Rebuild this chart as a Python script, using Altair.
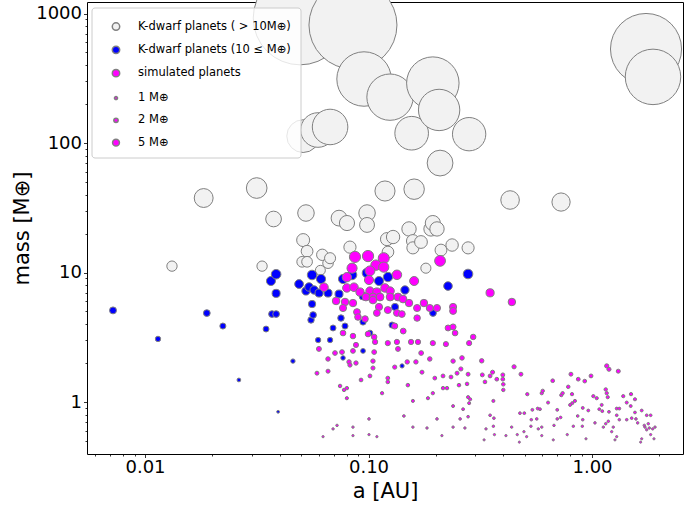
import altair as alt
import pandas as pd

# K-dwarf planets heavier than 10 Earth masses: semi-major axis [AU], mass [M_earth]
big_a = [0.0132, 0.0183, 0.0316, 0.0334, 0.0376, 0.0494, 0.0505, 0.0510, 0.0510, 0.0525,
         0.0531, 0.0531, 0.0594, 0.0609, 0.0621, 0.0659, 0.0673, 0.0673, 0.0738, 0.0801,
         0.0826, 0.0852, 0.0955, 0.0985, 0.0985, 0.1185, 0.1210, 0.1222, 0.1248, 0.1288,
         0.1518, 0.156, 0.158, 0.158, 0.160, 0.1717, 0.1806, 0.1904, 0.194, 0.194,
         0.2025, 0.207, 0.209, 0.211, 0.2366, 0.279, 0.282, 0.430, 0.727, 1.745, 1.875]
big_m = [11.2, 37.6, 44.9, 11.2, 25.9, 923, 12.1, 113, 17.8, 28.8,
         14.6, 12.1, 126, 10.4, 13.7, 11.8, 133, 12.9, 26.3, 24.1,
         15.7, 815, 312, 28.8, 23.3, 42.6, 18.1, 14.4, 226, 18.8,
         21.7, 119, 17.5, 15.5, 44.0, 17.2, 10.8, 21.7, 290, 24.1,
         21.7, 180, 70.0, 14.9, 16.3, 15.5, 117, 36.3, 35.0, 532, 324]

# K-dwarf planets up to 10 Earth masses
small_a = [0.00719, 0.01143, 0.0189, 0.0223, 0.0263, 0.0348, 0.0366, 0.0370, 0.0386, 0.0386,
           0.0386, 0.0394, 0.0459, 0.0489, 0.0525, 0.0542, 0.0553, 0.0559, 0.0559, 0.0565,
           0.0571, 0.0595, 0.0601, 0.0613, 0.0659, 0.0673, 0.0694, 0.0738, 0.0753, 0.0769,
           0.0769, 0.0785, 0.0844, 0.0945, 0.0945, 0.0945, 0.0985, 0.1015, 0.1114, 0.1222,
           0.1274, 0.1314, 0.1413, 0.1456, 0.1943, 0.2268, 0.2788]
small_m = [5.1, 3.07, 4.86, 3.86, 1.48, 3.66, 8.6, 4.78, 9.7, 6.9,
           4.78, 0.84, 2.07, 8.15, 7.2, 7.73, 4.3, 9.57, 5.71, 4.7,
           7.33, 3.01, 6.94, 8.91, 6.94, 3.01, 3.73, 6.82, 4.45, 8.91,
           2.19, 3.86, 9.57, 6.58, 4.15, 2.48, 9.91, 3.41, 8.6, 9.23,
           3.93, 5.42, 1.90, 7.33, 4.87, 7.86, 9.74]

# simulated planets inside ~0.45 AU
sim_in_a = [0.087, 0.0995, 0.117, 0.108, 0.117, 0.209, 0.0844, 0.1015, 0.134, 0.080,
            0.1005, 0.160, 0.0632, 0.080, 0.0861, 0.0916, 0.1015, 0.109, 0.1185, 0.125,
            0.0974, 0.1047, 0.1126, 0.125, 0.1355, 0.0716, 0.0785, 0.0852, 0.1047, 0.1427,
            0.1518, 0.177, 0.188, 0.2025, 0.239, 0.0769, 0.0888, 0.1114, 0.122, 0.134,
            0.141, 0.165, 0.0897, 0.0965, 0.109, 0.165, 0.131, 0.143, 0.227, 0.239,
            0.0769, 0.0852, 0.0995, 0.106, 0.107, 0.122, 0.134, 0.155, 0.1665, 0.194,
            0.222, 0.244, 0.282, 0.294, 0.060, 0.0708, 0.0761, 0.0879, 0.0852, 0.106,
            0.1355, 0.172, 0.262, 0.0659, 0.0818, 0.0879, 0.1047, 0.149, 0.163, 0.188,
            0.239, 0.0826, 0.1047, 0.131, 0.259, 0.0588, 0.0659, 0.1735, 0.1015, 0.0926,
            0.122, 0.122, 0.198, 0.2155, 0.234, 0.249, 0.279, 0.0746, 0.080, 0.0777,
            0.150, 0.2155, 0.2245, 0.254, 0.276, 0.080, 0.115, 0.1845, 0.194, 0.279,
            0.285, 0.158, 0.239, 0.265, 0.282, 0.144, 0.1005, 0.0694, 0.0723, 0.0626,
            0.0852, 0.0852, 0.1005, 0.109, 0.158, 0.1827, 0.2025, 0.213, 0.239, 0.257,
            0.270, 0.279, 0.350, 0.438, 0.239]
sim_in_m = [13.2, 13.4, 12.9, 11.4, 11.0, 12.3, 10.8, 10.3, 9.6, 9.2,
            8.75, 8.6, 7.7, 7.6, 7.7, 7.07, 7.2, 7.07, 7.6, 7.2,
            6.47, 6.47, 6.47, 6.47, 6.47, 6.03, 5.92, 5.81, 6.13, 6.24,
            5.81, 5.81, 5.32, 5.32, 5.42, 5.32, 4.95, 5.42, 5.13, 4.87,
            4.78, 5.32, 4.53, 4.38, 4.87, 4.45, 3.86, 3.53, 3.73, 3.80,
            3.41, 3.23, 3.35, 3.18, 2.91, 2.85, 2.91, 2.91, 2.91, 2.85,
            2.80, 3.41, 2.85, 3.18, 2.57, 2.39, 2.43, 2.76, 2.48, 2.43,
            2.57, 2.39, 2.19, 2.15, 2.04, 2.00, 2.07, 2.04, 2.04, 2.15,
            2.07, 1.93, 1.83, 1.86, 1.80, 1.67, 1.73, 1.70, 1.59, 1.48,
            1.53, 1.43, 1.53, 1.59, 1.56, 1.67, 1.64, 1.33, 1.28, 1.24,
            1.35, 1.28, 1.28, 1.35, 1.38, 1.07, 1.17, 1.07, 1.17, 1.09,
            1.05, 1.02, 0.93, 0.88, 0.98, 0.78, 0.74, 0.62, 0.66, 0.54,
            0.64, 0.55, 0.56, 0.54, 0.64, 0.63, 0.74, 0.55, 0.64, 0.74,
            0.63, 0.77, 6.97, 5.92, 5.05]

# simulated planets beyond ~0.3 AU
sim_out_a = [0.321, 0.448, 0.323, 0.350, 0.359, 0.332, 0.375, 0.399, 0.399, 0.401,
             0.401, 0.481, 0.3355, 0.329, 0.362, 0.350, 0.364, 0.362, 0.366, 0.412,
             0.437, 0.463, 0.473, 0.496, 0.510, 0.476, 0.498, 0.5135, 0.541, 0.5715,
             0.585, 0.535, 0.566, 0.533, 0.575, 0.596, 0.596, 0.636, 0.596, 0.602,
             0.667, 0.676, 0.671, 0.699, 0.699, 0.724, 0.729, 0.739, 0.783, 0.805,
             0.814, 0.816, 0.839, 0.798, 0.775, 0.825, 0.863, 0.909, 0.868, 0.928,
             0.905, 0.940, 0.909, 0.9625, 0.990, 1.014, 1.050, 1.031, 1.078, 1.105,
             1.112, 1.124, 1.152, 1.183, 1.164, 1.191, 1.152, 1.164, 1.176, 1.191,
             1.225, 1.245, 1.267, 1.290, 1.311, 1.290, 1.325, 1.290, 1.325, 1.380,
             1.430, 1.505, 1.430, 1.490, 1.495, 1.557, 1.557, 1.573, 1.601, 1.669,
             1.714, 1.726, 1.669, 1.651, 1.757, 1.830, 1.786, 1.757, 1.805, 1.869,
             1.830, 1.914, 1.894]
sim_out_m = [2.08, 1.87, 1.62, 1.59, 1.70, 1.43, 1.50, 1.62, 1.50, 1.37,
             1.24, 1.64, 0.62, 0.51, 1.02, 0.79, 0.75, 0.65, 0.56, 0.55,
             0.64, 0.56, 0.49, 0.59, 0.54, 0.82, 0.82, 1.15, 0.87, 0.89,
             0.88, 0.73, 0.74, 0.65, 0.62, 0.64, 0.55, 0.99, 1.17, 1.22,
             1.46, 0.66, 0.51, 0.87, 0.74, 0.76, 1.13, 1.17, 1.31, 1.64,
             1.15, 0.98, 1.02, 0.95, 0.56, 0.65, 0.78, 0.73, 1.50, 1.45,
             0.65, 0.52, 0.90, 0.86, 1.59, 1.11, 1.07, 0.69, 0.88, 0.95,
             0.85, 0.64, 0.68, 0.71, 1.90, 1.79, 1.25, 1.17, 1.09, 0.84,
             0.59, 0.64, 0.51, 0.54, 1.73, 0.89, 0.89, 0.79, 0.73, 1.11,
             0.73, 0.75, 0.99, 0.93, 1.15, 1.05, 0.83, 0.74, 0.69, 0.86,
             0.66, 0.64, 0.52, 0.49, 0.79, 0.79, 0.68, 0.61, 0.63, 0.62,
             0.56, 0.64, 0.52]

# legend entries
category_labels = ["K-dwarf planets ( > 10M⊕)", "K-dwarf planets (10 ≤ M⊕)", "simulated planets"]
category_fills = ["#f2f2f2", "#0000ff", "#ff00ff"]
reference_masses = [1, 2, 5]

x_ticks = [0.006, 0.007, 0.008, 0.009,
           0.01, 0.02, 0.03, 0.04, 0.05, 0.06, 0.07, 0.08, 0.09,
           0.1, 0.2, 0.3, 0.4, 0.5, 0.6, 0.7, 0.8, 0.9, 1, 2]
y_ticks = [0.5, 0.6, 0.7, 0.8, 0.9, 1, 2, 3, 4, 5, 6, 7, 8, 9,
           10, 20, 30, 40, 50, 60, 70, 80, 90,
           100, 200, 300, 400, 500, 600, 700, 800, 900, 1000]

AREA_PER_MASS = 9.5  # marker area (px^2) per Earth mass
EDGE = "#808080"

is_decade = "abs(log(datum.value)/LN10 - round(log(datum.value)/LN10)) < 1e-6"
tick_len = {"condition": {"test": is_decade, "value": 3.5}, "value": 2}

x_scale = alt.Scale(type="log", domain=[0.0055, 2.554], nice=False)
y_scale = alt.Scale(type="log", domain=[0.3968, 1227], nice=False)
x_axis = alt.Axis(values=x_ticks, title="a [AU]", tickSize=tick_len,
                  labelExpr=f"{is_decade} ? format(datum.value, '.2f') : ''",
                  labelFontSize=18, titleFontSize=21, labelPadding=1, titlePadding=4,
                  labelOverlap=False, labelFlush=False)
y_axis = alt.Axis(values=y_ticks, title="mass [M⊕]", tickSize=tick_len,
                  labelExpr=f"{is_decade} ? format(datum.value, 'd') : ''",
                  labelFontSize=18, titleFontSize=21, labelPadding=2, titlePadding=3,
                  labelOverlap=False, labelFlush=False)


def scatter(a_vals, m_vals, fill):
    df = pd.DataFrame({"a": a_vals, "m": m_vals})
    return alt.Chart(df).transform_calculate(
        s=f"{AREA_PER_MASS} * datum.m"
    ).mark_circle(fill=fill, stroke=EDGE, strokeWidth=1, opacity=1).encode(
        x=alt.X("a:Q", scale=x_scale, axis=x_axis),
        y=alt.Y("m:Q", scale=y_scale, axis=y_axis),
        size=alt.Size("s:Q", scale=None),
    )


gray = scatter(big_a, big_m, "#f2f2f2")
blue = scatter(small_a, small_m, "#0000ff")
sim = scatter(sim_in_a + sim_out_a, sim_in_m + sim_out_m, "#ff00ff")

# translucent frame behind the two legend blocks
legend_frame = alt.Chart(pd.DataFrame({"k": [0]})).mark_rect(
    fill="white", fillOpacity=0.8, stroke="#cccccc", strokeWidth=1, cornerRadius=3
).encode(
    x=alt.value(5), x2=alt.value(214), y=alt.value(6), y2=alt.value(156)
)

# hidden layers that only carry the legends
key_categories = alt.Chart(pd.DataFrame({"label": category_labels})).mark_circle(
    stroke=EDGE, strokeWidth=1, opacity=1, clip=True
).encode(
    x=alt.value(-200),
    y=alt.value(-200),
    fill=alt.Fill(
        "label:N",
        scale=alt.Scale(domain=category_labels, range=category_fills),
        legend=alt.Legend(title=None, orient="none", legendX=23.25, legendY=18.8,
                          symbolSize=55),
    ),
)

key_masses = alt.Chart(pd.DataFrame({"mass": reference_masses})).mark_circle(
    fill="#ff00ff", stroke=EDGE, strokeWidth=1, opacity=1, clip=True
).encode(
    x=alt.value(-200),
    y=alt.value(-200),
    size=alt.Size(
        "mass:Q",
        scale=alt.Scale(type="linear", domain=[0, 10], range=[0, 10 * AREA_PER_MASS]),
        legend=alt.Legend(title=None, orient="none", legendX=23.25, legendY=90.3,
                          values=reference_masses, format="d",
                          labelExpr="datum.label + ' M⊕'"),
    ),
)

chart = alt.layer(gray, blue, sim, legend_frame, key_categories, key_masses).resolve_scale(
    size="independent"
).properties(
    width=596, height=452,
    padding={"left": 87, "top": 2, "right": 14, "bottom": 52},
    autosize=alt.AutoSizeParams(type="none"),
    background="white",
).configure_view(
    stroke="black", strokeWidth=1
).configure_axis(
    labelFont="DejaVu Sans", titleFont="DejaVu Sans", titleFontWeight="normal",
    labelColor="black", titleColor="black", tickColor="black", tickWidth=0.8,
    domain=False, grid=False,
).configure_legend(
    padding=0, symbolOffset=0, labelOffset=16.25, rowPadding=9.3,
    labelFont="DejaVu Sans", labelFontSize=11.5, labelColor="black",
    labelLimit=400, symbolType="circle",
)

chart.save("out.html", embed_options={"renderer": "svg", "actions": False})
